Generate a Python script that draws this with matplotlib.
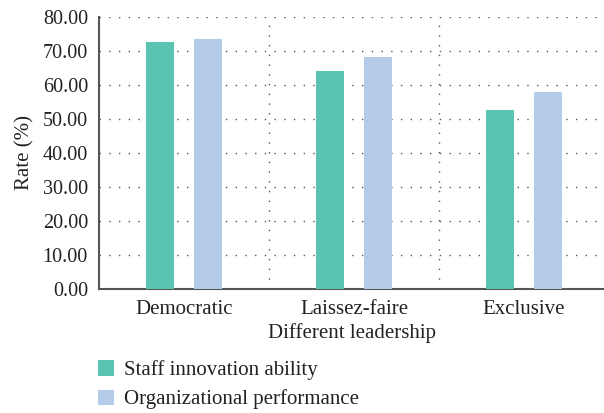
import numpy as np
import matplotlib
matplotlib.use('Agg')
import matplotlib.pyplot as plt
from matplotlib.patches import Patch

categories = ['Democratic', 'Laissez-faire', 'Exclusive']
innovation = [72.6, 64.1, 52.6]
performance = [73.5, 68.2, 57.9]
series_names = ['Staff innovation ability', 'Organizational performance']
colors = ['#5bc4b1', '#b4cce9']

plt.rcParams['font.family'] = ['Liberation Serif', 'DejaVu Serif']
fs = 15

fig = plt.figure(figsize=(6.04, 4.13), dpi=100)
ax = fig.add_axes([99 / 604, 1 - 289 / 413, 505 / 604, 272 / 413])

x = np.arange(len(categories))
w = 0.165
ax.bar(x - 0.14, innovation, w, color=colors[0], zorder=3)
ax.bar(x + 0.14, performance, w, color=colors[1], zorder=3)

ax.set_xlim(-0.5, 2.47)
ax.set_ylim(0, 80)
ax.set_yticks(np.arange(0, 81, 10))
ax.set_yticklabels([f'{v:.2f}' for v in np.arange(0, 81, 10)])
ax.set_xticks(x)
ax.set_xticklabels(categories)
ax.set_xticks([0.5, 1.5], minor=True)

ax.grid(axis='y', which='major', linestyle=(0, (1, 6)), color='#555555', linewidth=1.0, zorder=0)
ax.grid(axis='x', which='minor', linestyle=(0, (1, 6)), color='#555555', linewidth=1.0, zorder=0)
ax.tick_params(axis='y', which='both', length=0, labelsize=14.5, colors='#222222', pad=8)
ax.tick_params(axis='x', which='both', length=0, labelsize=fs, colors='#222222', pad=8)

for side in ['top', 'right']:
    ax.spines[side].set_visible(False)
for side in ['left', 'bottom']:
    ax.spines[side].set_color('#555555')
    ax.spines[side].set_linewidth(1.5)

ax.set_ylabel('Rate (%)', fontsize=fs, color='#222222', labelpad=6)
ax.set_xlabel('Different leadership', fontsize=fs, color='#222222', labelpad=3)

handles = [Patch(facecolor=c, edgecolor='none') for c in colors]
fig.legend(handles, series_names, loc='upper left', bbox_to_anchor=(92 / 604, 1 - 354 / 413),
           frameon=False, fontsize=fs, handlelength=0.75, handleheight=0.75,
           handletextpad=0.5, labelspacing=0.45, labelcolor='#222222',
           borderaxespad=0, borderpad=0.3)

fig.savefig('out.png', dpi=100)
